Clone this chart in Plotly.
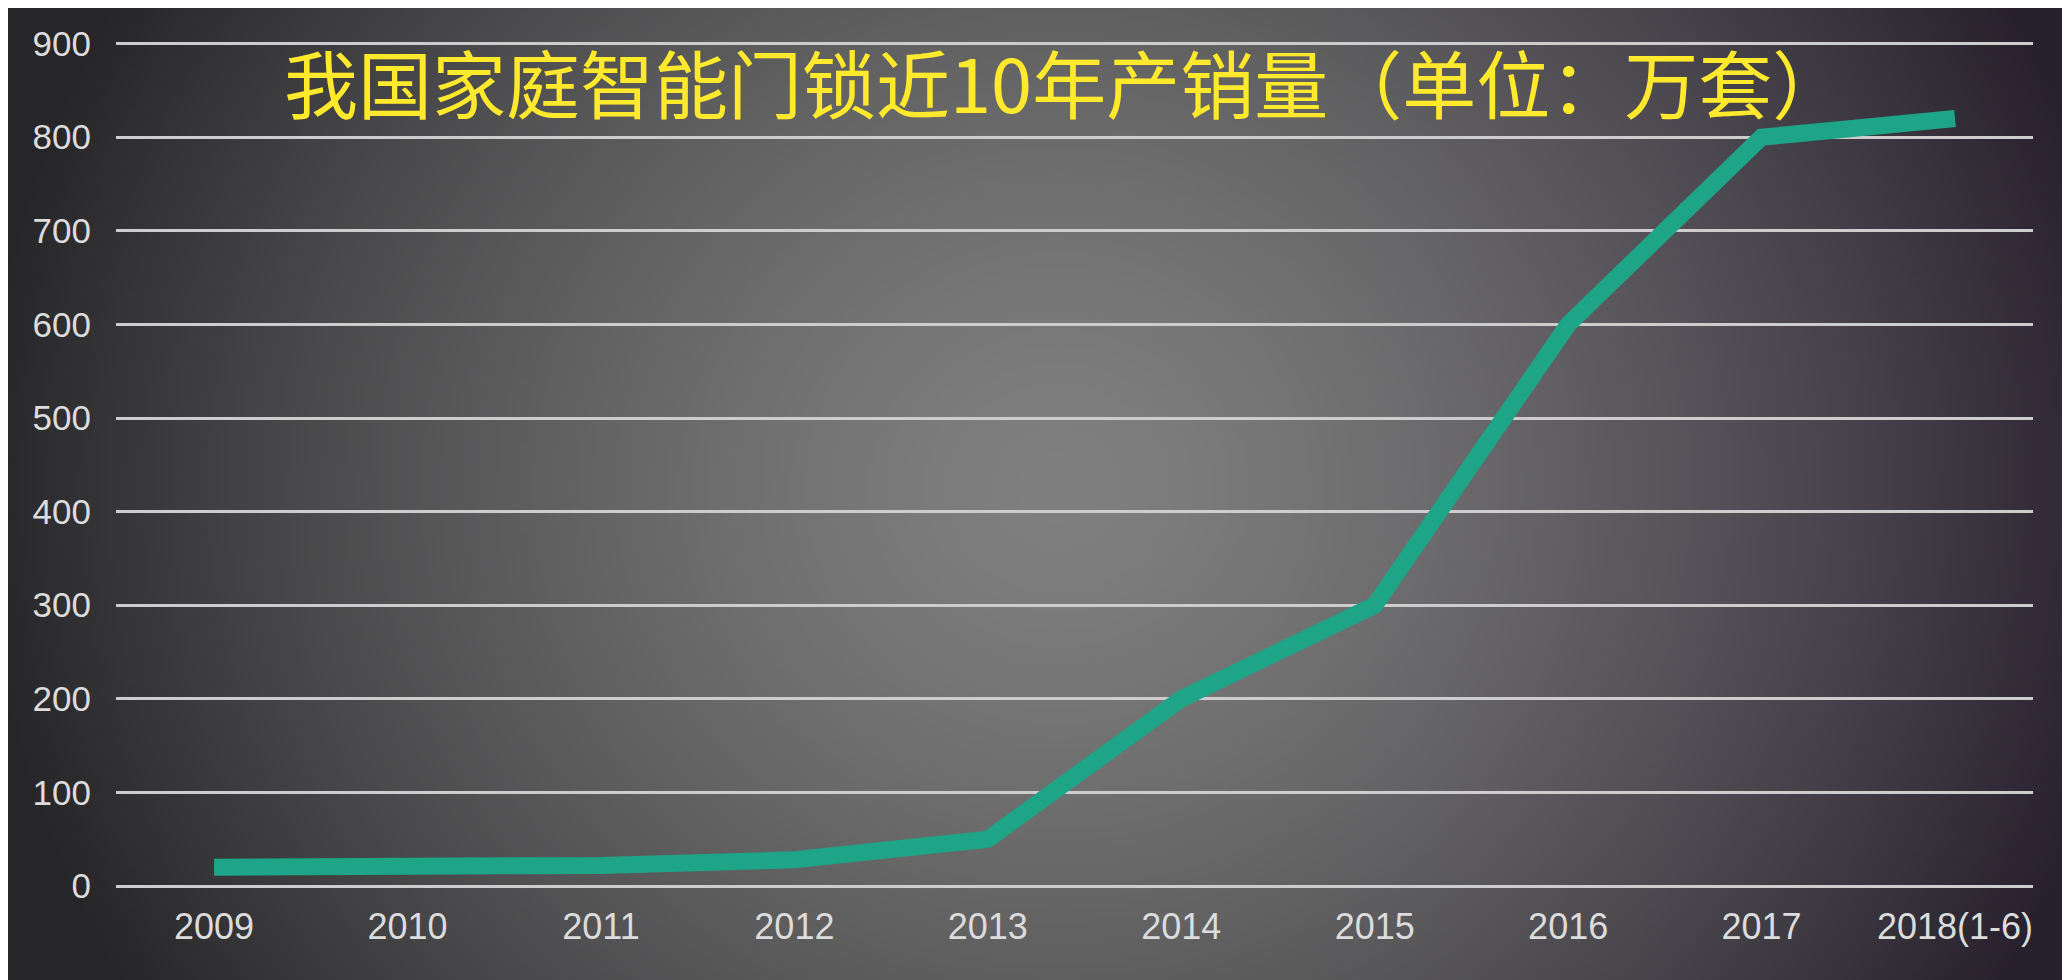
import base64
import struct
import zlib

import numpy as np
import plotly.graph_objects as go

# ---------------- data ----------------
categories = ["2009", "2010", "2011", "2012", "2013", "2014", "2015", "2016", "2017", "2018(1-6)"]
sales = [20, 20, 22, 28, 50, 200, 300, 600, 800, 820]
y_tick_values = [0, 100, 200, 300, 400, 500, 600, 700, 800, 900]
title_text = "我国家庭智能门锁近10年产销量（单位：万套）"

# ---------------- layout geometry ----------------
W, H = 2070, 980
OFF = 8                      # page body margin in the browser
Y_MAX = 906                  # slight headroom so the 900 grid line is drawn
PX_PER_UNIT = 842 / 900.0
L = 116 - OFF
R = W - 2033 + OFF
B = H - 886 + OFF
T = (886 - OFF) - int(round(Y_MAX * PX_PER_UNIT))
PW, PH = W - L - R, H - T - B


def _chunk(tag, data):
    return struct.pack(">I", len(data)) + tag + data + struct.pack(">I", zlib.crc32(tag + data) & 0xFFFFFFFF)


def gradient_png(w, h):
    yy, xx = np.mgrid[0:h, 0:w].astype(float)
    fx = xx / (w - 1) * W
    fy = yy / (h - 1) * H
    cx, cy = 1050.0, 480.0
    d = np.sqrt(((fx - cx) / 1080.0) ** 2 + ((fy - cy) / 1000.0) ** 2)
    t = np.clip(d, 0, 1) ** 1.4
    inner = np.array([128, 128, 128], float)
    outer = np.array([38, 37, 40], float)
    rgb = inner * (1 - t)[..., None] + outer * t[..., None]
    tint = np.clip((fx - 1300) / 770.0, 0, 1)[..., None]
    rgb = rgb + tint * np.array([2, -4, 6], float)
    img = np.clip(rgb, 0, 255).astype(np.uint8)
    raw = b"".join(b"\x00" + img[r].tobytes() for r in range(h))
    png = (b"\x89PNG\r\n\x1a\n"
           + _chunk(b"IHDR", struct.pack(">IIBBBBB", w, h, 8, 2, 0, 0, 0))
           + _chunk(b"IDAT", zlib.compress(raw, 9))
           + _chunk(b"IEND", b""))
    return "data:image/png;base64," + base64.b64encode(png).decode()


fig = go.Figure()
fig.add_trace(go.Scatter(
    x=categories, y=sales, mode="lines",
    line=dict(color="#1ea487", width=17),
    hoverinfo="x+y", showlegend=False,
))

title_page_x, title_page_y = 1065, 80
fig.update_layout(
    width=W, height=H, autosize=False,
    margin=dict(l=L, r=R, t=T, b=B, pad=0),
    paper_bgcolor="#4a4a4a",
    plot_bgcolor="rgba(0,0,0,0)",
    images=[dict(
        source=gradient_png(414, 196),
        xref="paper", yref="paper",
        x=-(L + OFF) / PW, y=1 + (T + OFF) / PH,
        sizex=(W + 2 * OFF) / PW, sizey=(H + 2 * OFF) / PH,
        xanchor="left", yanchor="top",
        sizing="stretch", layer="below",
    )],
    xaxis=dict(
        type="category", range=[-0.507, 9.403],
        showgrid=False, zeroline=False, showline=False,
        ticks="", tickfont=dict(family="Liberation Sans", size=36, color="#dcdcdc"),
        ticklabelstandoff=16,
    ),
    yaxis=dict(
        range=[0, Y_MAX], tickvals=y_tick_values,
        showgrid=True, gridcolor="#cdcdcd", gridwidth=3,
        zeroline=True, zerolinecolor="#cdcdcd", zerolinewidth=3,
        showline=False, ticks="",
        tickfont=dict(family="Liberation Sans", size=35, color="#dcdcdc"),
        ticklabelstandoff=24,
    ),
    annotations=[dict(
        text=title_text, xref="paper", yref="paper",
        x=(title_page_x - OFF - L) / PW,
        y=((H - B) - (title_page_y - OFF)) / PH,
        xanchor="center", yanchor="middle", showarrow=False,
        font=dict(family="Noto Sans CJK SC", size=74, color="#ffe92c"),
    )],
)

fig.write_html("out.html")
